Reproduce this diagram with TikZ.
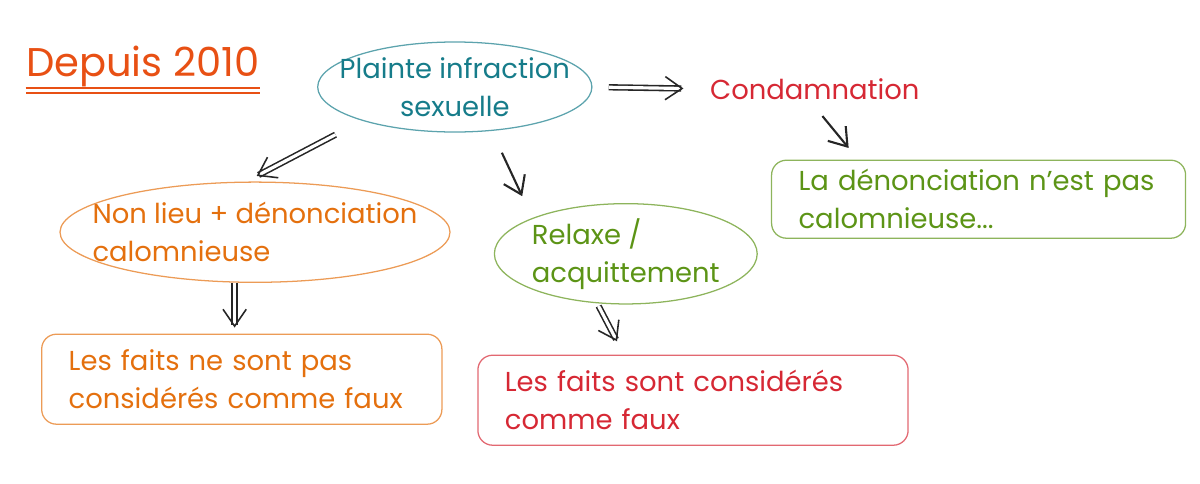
\documentclass[tikz,border=0pt]{standalone}
\usepackage{fontspec}
\setmainfont{Poppins}
\usetikzlibrary{shapes.geometric, arrows.meta, positioning, calc}

\definecolor{inkteal}{RGB}{22,124,138}
\definecolor{inkred}{RGB}{214,40,52}
\definecolor{inkgreen}{RGB}{92,148,22}
\definecolor{inkorange}{RGB}{228,112,14}
\definecolor{inktitle}{RGB}{232,80,20}

\begin{document}
\begin{tikzpicture}[
    % === STYLES ===
    bubble/.style={
        ellipse,
        draw=#1!70!white,
        text=#1,
        line width=0.6pt,
        inner xsep=-0.5cm,
        inner ysep=0pt,
        align=left,
        font=\fontsize{13}{18}\selectfont
    },
    card/.style={
        rectangle,
        rounded corners=7pt,
        draw=#1!70!white,
        text=#1,
        line width=0.6pt,
        inner xsep=0.45cm,
        minimum height=1.5cm,
        align=left,
        font=\fontsize{13}{18}\selectfont
    },
    verdict/.style={
        text=#1,
        font=\fontsize{13}{18}\selectfont
    },
    arrow/.style={
        -{Straight Barb[length=8pt,width=11pt]},
        line width=1pt,
        color=black!85
    },
    dblarrow/.style={
        arrow,
        double,
        double distance=1.5pt,
        line width=0.75pt
    }
]
\useasboundingbox (0,0) rectangle (20,-8.05);

% === TITLE ===
\node[text=inktitle, font=\fontsize{19}{23}\selectfont, inner sep=0pt] (title) at (2.38,-1.1) {Depuis 2010};
\draw[inktitle, double, double distance=1.5pt, line width=0.8pt]
    ($(title.south west)+(0,-0.06)$) -- ($(title.south east)+(0,-0.06)$);

% === TOP ROW ===
\node[bubble=inkteal, align=center, minimum width=4.57cm, minimum height=1.5cm] (plainte) at (7.58,-1.45) {Plainte infraction\\sexuelle};
\node[verdict=inkred] (condamnation) at (13.58,-1.48) {Condamnation};
\node[card=inkgreen, text width=6.0cm, minimum height=1.3cm] (nonpas) at (16.31,-3.32) {La dénonciation n'est pas\\calomnieuse...};

% === MIDDLE ROW ===
\node[bubble=inkorange, minimum width=6.5cm, minimum height=1.67cm] (nonlieu) at (4.25,-3.87) {Non lieu + dénonciation\\calomnieuse};
\node[bubble=inkgreen, minimum width=4.38cm, minimum height=1.67cm] (relaxe) at (10.43,-4.23) {Relaxe /\\acquittement};

% === BOTTOM ROW ===
\node[card=inkorange, text width=5.77cm] (fauxnon) at (4.03,-6.32) {Les faits ne sont pas\\considérés comme faux};
\node[card=inkred, text width=6.27cm] (fauxoui) at (11.55,-6.67) {Les faits sont considérés\\comme faux};

% === CONNECTIONS ===
\draw[dblarrow, shorten <=0.27cm, shorten >=0.32cm] (plainte.east) -- (condamnation.west);
\draw[dblarrow, shorten <=0.5cm, shorten >=0.2cm] (plainte.200) -- (nonlieu.100);
\draw[arrow, shorten <=0.4cm, shorten >=0.4cm] (plainte.310) -- (relaxe.159);
\draw[arrow, shorten <=0.2cm, shorten >=0.25cm] (condamnation.south) -- ($(nonpas.north west)!0.21!(nonpas.north east)$);
\draw[dblarrow, shorten >=0.1cm] (nonlieu.248) -- (nonlieu.248 |- fauxnon.north);
\draw[dblarrow, shorten <=0.05cm, shorten >=0.25cm] (relaxe.240) -- ($(fauxoui.north west)!0.34!(fauxoui.north east)$);

\end{tikzpicture}
\end{document}
